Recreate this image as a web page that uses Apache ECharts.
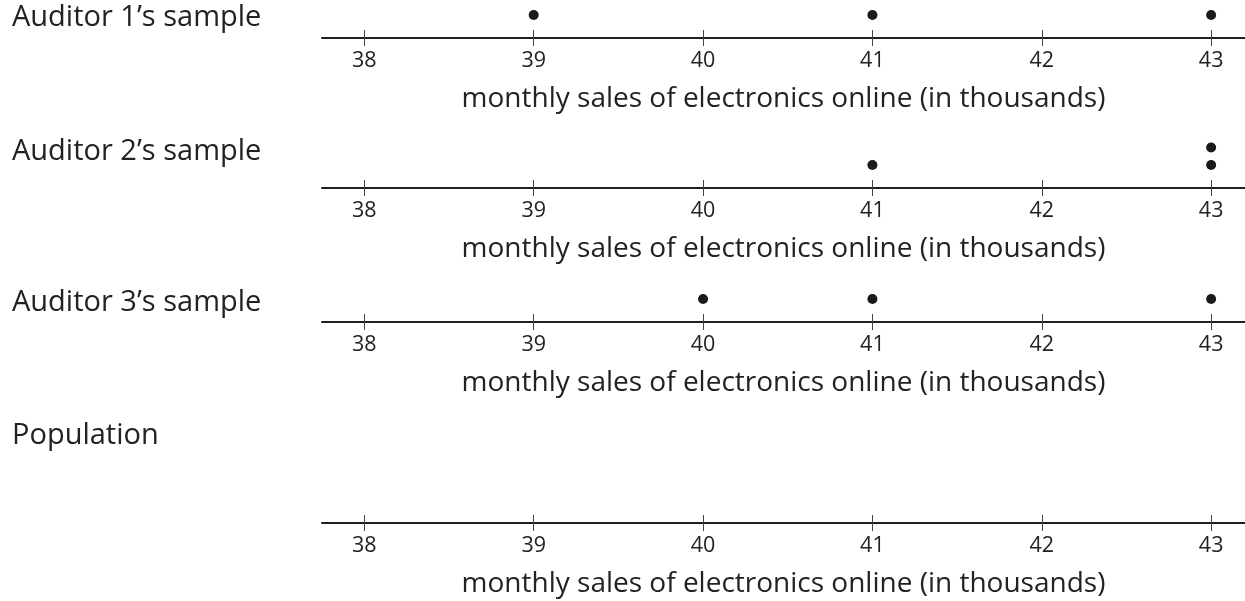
<!DOCTYPE html>
<html><head><meta charset="utf-8">
<script src="https://cdn.jsdelivr.net/npm/echarts@6/dist/echarts.min.js"></script>
<style>html,body{margin:0;padding:0;background:#fff}#c{width:1245px;height:601px}</style>
</head><body><div id="c"></div>
<script>
const rowLabels = ['Auditor 1\u2019s sample', 'Auditor 2\u2019s sample', 'Auditor 3\u2019s sample', 'Population'];
const auditor1 = [39, 41, 43];
const auditor2 = [41, 43, 43];
const auditor3 = [40, 41, 43];
const population = [];
const tickValues = [38, 39, 40, 41, 42, 43];
const axisName = 'monthly sales of electronics online (in thousands)';

const samples = [auditor1, auditor2, auditor3, population];
const axisY = [38, 188, 322, 523];
const labelY = [18, 152, 303, 436];
const gridH = 38;
const FONT = '"Open Sans", sans-serif';
const dark = '#231f20';

function stack(vals) {
  const cnt = {};
  return vals.map(v => { cnt[v] = (cnt[v] || 0) + 1; return [v, cnt[v]]; });
}

const grid = [], xAxis = [], yAxis = [], series = [], graphic = [];
samples.forEach((s, i) => {
  grid.push({ left: 322, right: 0, top: axisY[i] - gridH, height: gridH });
  const base = {
    gridIndex: i, type: 'value', min: 37.75, max: 43.2, interval: 1,
    splitLine: { show: false }, position: 'bottom', offset: 0
  };
  xAxis.push(Object.assign({}, base, {
    axisLine: { show: true, onZero: false, lineStyle: { color: dark, width: 2 } },
    axisTick: { show: true, inside: false, length: 8, lineStyle: { color: '#444', width: 1 },
      customValues: tickValues },
    axisLabel: { show: true, fontFamily: FONT, fontSize: 21.5, color: '#222', margin: 12,
      customValues: tickValues, formatter: v => String(v) },
    name: axisName, nameLocation: 'middle', nameGap: 47,
    nameTextStyle: { fontFamily: FONT, fontSize: 28, color: '#222' }
  }));
  xAxis.push(Object.assign({}, base, {
    axisLine: { show: false, onZero: false },
    axisTick: { show: true, inside: true, length: 8, lineStyle: { color: '#444', width: 1 },
      customValues: tickValues },
    axisLabel: { show: false }
  }));
  yAxis.push({ gridIndex: i, type: 'value', min: -5.5 / 17.5, max: (gridH - 5.5) / 17.5, show: false });
  series.push({
    type: 'scatter', xAxisIndex: 2 * i, yAxisIndex: i, data: stack(s), clip: false,
    symbolSize: 10, itemStyle: { color: '#1a1a1a', opacity: 1 }, silent: true
  });
  graphic.push({ type: 'text', x: 12, y: labelY[i],
    style: { text: rowLabels[i], font: '29px "Open Sans", sans-serif', fill: '#222', verticalAlign: 'middle' } });
});

const chart = echarts.init(document.getElementById('c'), null, { renderer: 'canvas' });
chart.setOption({ animation: false, grid, xAxis, yAxis, series, graphic });
</script></body></html>
